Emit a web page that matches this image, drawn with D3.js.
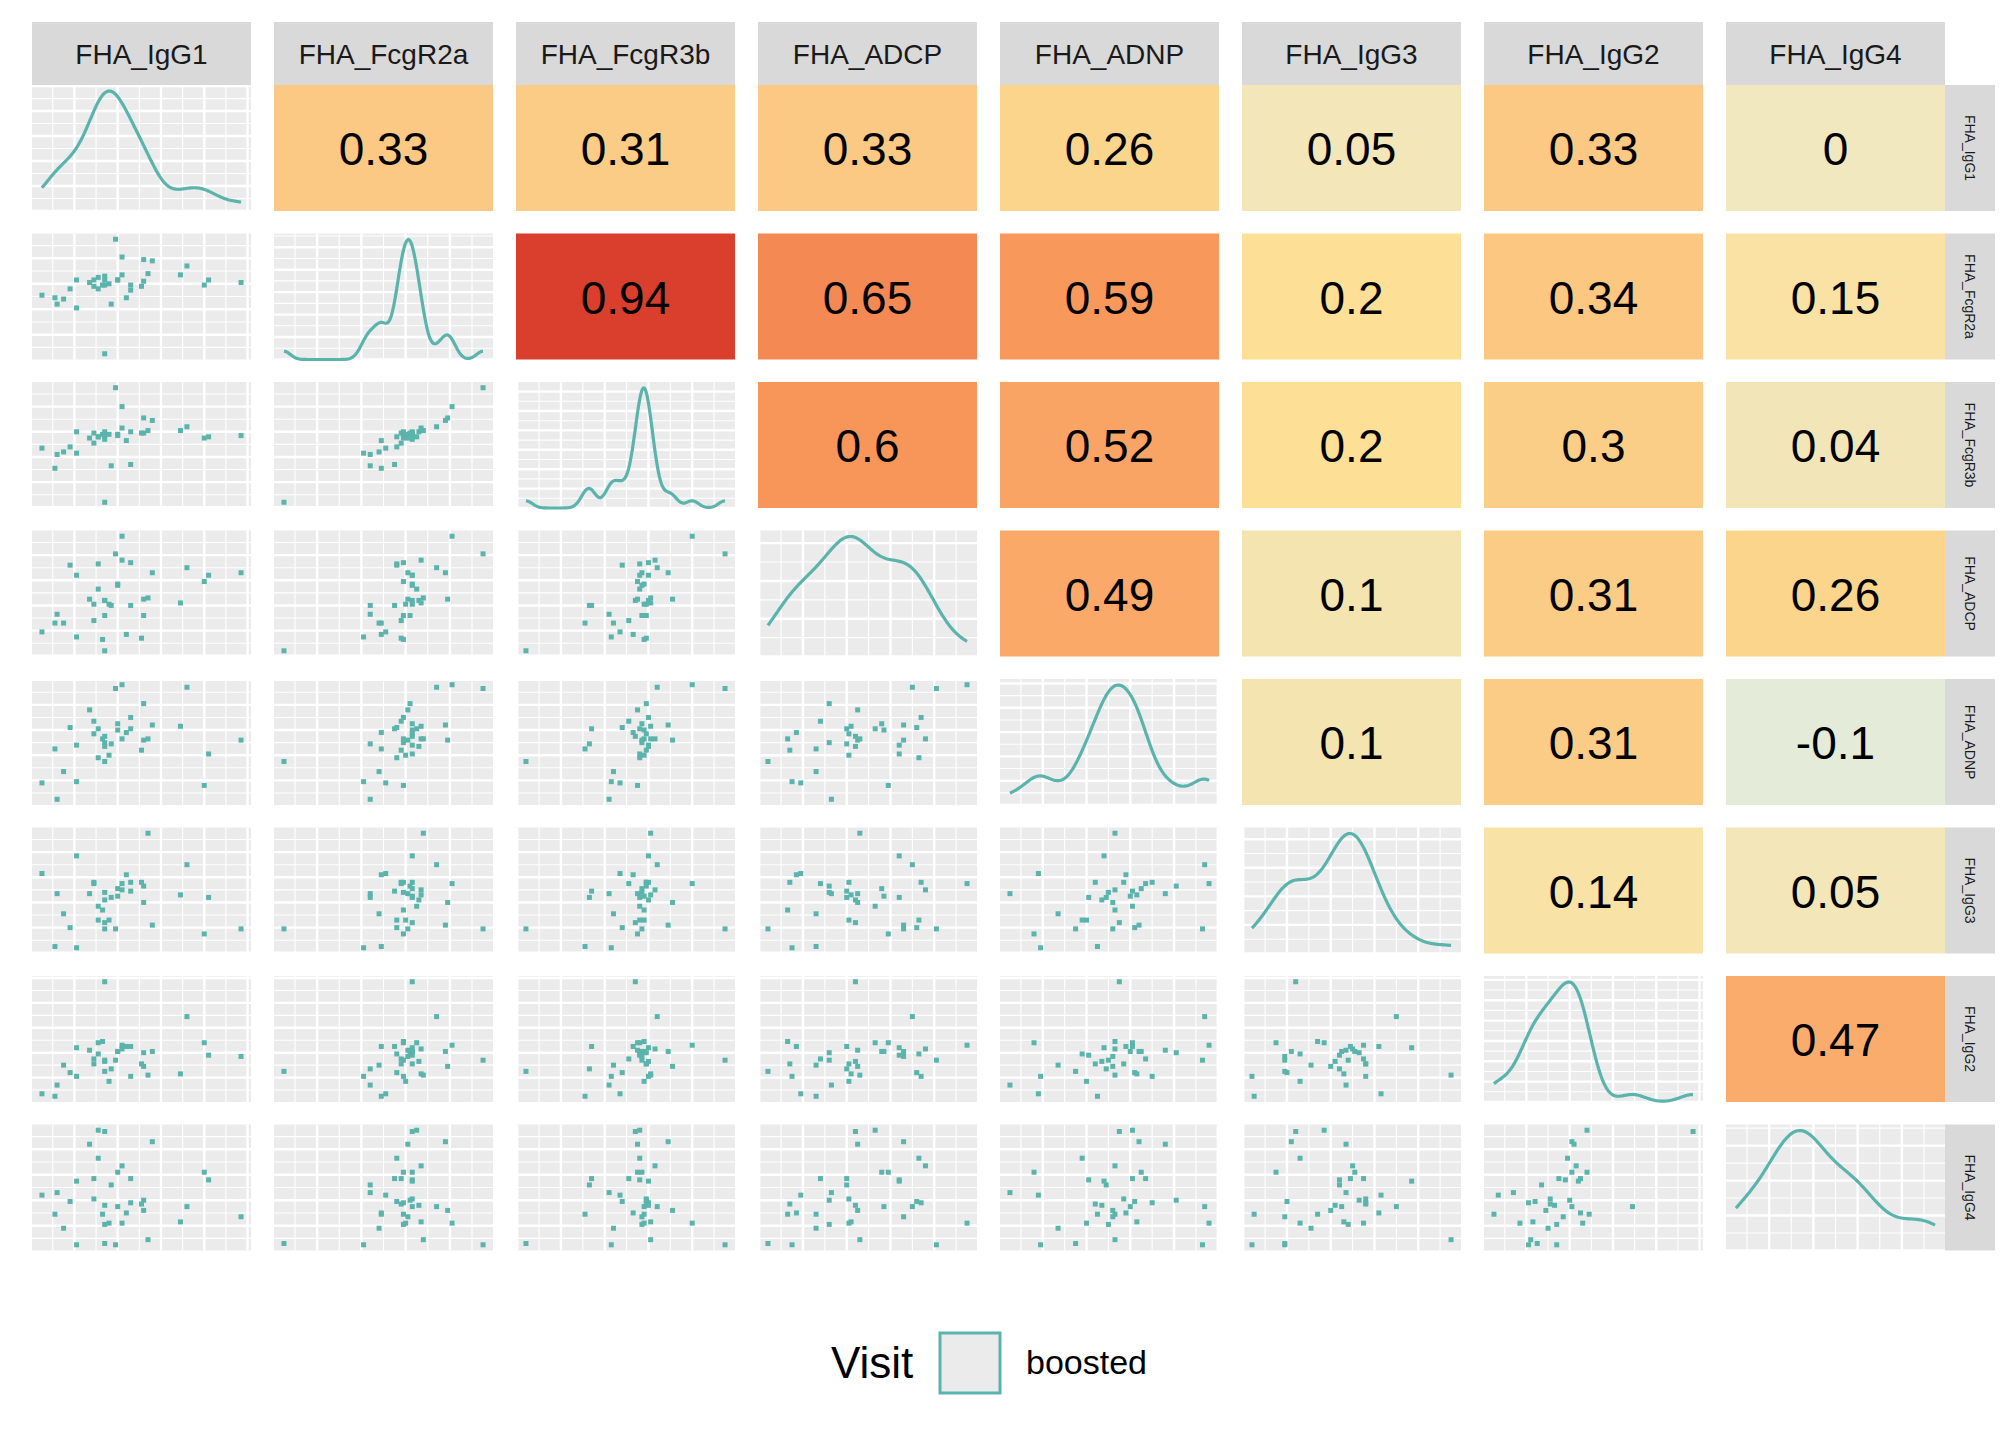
<!DOCTYPE html>
<html lang="en">
<head>
<meta charset="UTF-8">
<title>FHA pairs</title>
<script src="https://d3js.org/d3.v7.min.js"></script>
<style>
  body { margin: 0; background: #fff; font-family: "Liberation Sans", Arial, sans-serif; }
</style>
</head>
<body>
<div class="viz"></div>
<script>
// variable names, in panel order
const vars = ["FHA_IgG1", "FHA_FcgR2a", "FHA_FcgR3b", "FHA_ADCP", "FHA_ADNP", "FHA_IgG3", "FHA_IgG2", "FHA_IgG4"];

// per-sample values (relative units)
const IgG1   = [5, 11, 12, 15, 18, 21, 21, 27, 29, 29, 31, 31, 33, 34, 34, 34, 36, 37, 39, 34, 40, 40, 42, 42, 44, 46, 46, 51, 52, 52, 54, 56, 69, 72, 80, 82, 97];
const FcgR2a = [51, 49, 44, 48, 56, 63, 41, 61, 63, 58, 65, 56, 59, 59, 66, 63, 60, 44, 95, 5, 63, 63, 81, 67, 49, 59, 55, 58, 62, 79, 68, 78, 67, 74, 59, 63, 61];
const FcgR3b = [47, 31, 42, 44, 48, 60, 43, 55, 59, 51, 56, 56, 58, 57, 60, 54, 58, 33, 95, 4, 57, 58, 80, 63, 53, 60, 34, 59, 59, 71, 61, 69, 61, 64, 55, 56, 57];
const ADCP   = [19, 26, 33, 26, 72, 64, 15, 45, 41, 28, 53, 73, 13, 32, 44, 44, 41, 40, 81, 4, 56, 57, 95, 76, 17, 74, 40, 14, 32, 45, 46, 66, 42, 70, 59, 64, 66];
const ADNP   = [18, 45, 5, 27, 62, 48, 19, 76, 57, 67, 61, 38, 53, 50, 47, 55, 40, 49, 93, 35, 65, 60, 96, 53, 58, 70, 61, 44, 81, 52, 53, 64, 63, 94, 16, 41, 52];
const IgG3   = [63, 5, 47, 31, 20, 77, 4, 47, 56, 55, 37, 26, 34, 48, 42, 24, 26, 44, 19, 19, 51, 45, 55, 50, 62, 56, 49, 56, 53, 40, 95, 22, 46, 70, 15, 44, 19];
const IgG2   = [7, 5, 14, 30, 24, 44, 21, 42, 31, 35, 48, 39, 49, 34, 33, 97, 17, 27, 34, 25, 41, 41, 46, 43, 45, 21, 45, 31, 40, 29, 22, 41, 23, 69, 48, 38, 37];
const IgG4   = [44, 29, 46, 18, 39, 55, 5, 84, 41, 57, 95, 73, 29, 21, 36, 94, 22, 52, 5, 6, 62, 35, 22, 67, 30, 38, 57, 37, 40, 32, 9, 86, 23, 35, 62, 56, 27];
const series = [IgG1, FcgR2a, FcgR3b, ADCP, ADNP, IgG3, IgG2, IgG4];

// correlation labels of the upper triangle, row by row
const corrLabels = [
  [null, "0.33", "0.31", "0.33", "0.26", "0.05", "0.33", "0"],
  [null, null, "0.94", "0.65", "0.59", "0.2", "0.34", "0.15"],
  [null, null, null, "0.6", "0.52", "0.2", "0.3", "0.04"],
  [null, null, null, null, "0.49", "0.1", "0.31", "0.26"],
  [null, null, null, null, null, "0.1", "0.31", "-0.1"],
  [null, null, null, null, null, null, "0.14", "0.05"],
  [null, null, null, null, null, null, null, "0.47"],
  [null, null, null, null, null, null, null, null]
];
const legendTitle = "Visit";
const legendLabel = "boosted";

const W = 2016, H = 1440;
const x0 = 32, y0 = 85, cellW = 219, cellH = 126, stepX = 242, stepY = 148.5;
const stripH = 63, rStripW = 50;
const teal = "#5AB4AC";

const fill = d3.scaleLinear()
  .domain([-1, -0.1, 0, 0.1, 0.2, 0.33, 0.47, 0.6, 0.94, 1])
  .range(["#3288BD", "#E5EBD9", "#F1E8BF", "#F4E4B0", "#FDDF95", "#FBC983", "#FAAC6C", "#F8965A", "#DA3F2E", "#D53E2E"]);

const svg = d3.select(".viz").append("svg").attr("width", W).attr("height", H);

const xScales = series.map(s => {
  const [a, b] = d3.extent(s), pad = (b - a) * 0.05;
  return d3.scaleLinear().domain([a - pad, b + pad]).range([0, cellW]);
});
const yScales = series.map(s => {
  const [a, b] = d3.extent(s), pad = (b - a) * 0.05;
  return d3.scaleLinear().domain([a - pad, b + pad]).range([cellH, 0]);
});

function grid(g, xs, ys) {
  g.append("rect").attr("width", cellW).attr("height", cellH).attr("fill", "#EBEBEB");
  const xt = xs.ticks(5), yt = ys.ticks(5);
  const mids = t => t.slice(1).map((v, i) => (v + t[i]) / 2)
    .concat([t[0] - (t[1] - t[0]) / 2, t[t.length - 1] + (t[1] - t[0]) / 2]);
  const inX = v => xs(v) >= 0 && xs(v) <= cellW, inY = v => ys(v) >= 0 && ys(v) <= cellH;
  [[mids(xt), 1.1], [xt, 2.4]].forEach(([t, w]) => g.selectAll(null).data(t.filter(inX)).join("line")
    .attr("x1", d => xs(d)).attr("x2", d => xs(d)).attr("y1", 0).attr("y2", cellH)
    .attr("stroke", "#fff").attr("stroke-width", w));
  [[mids(yt), 1.1], [yt, 2.4]].forEach(([t, w]) => g.selectAll(null).data(t.filter(inY)).join("line")
    .attr("y1", d => ys(d)).attr("y2", d => ys(d)).attr("x1", 0).attr("x2", cellW)
    .attr("stroke", "#fff").attr("stroke-width", w));
}

function kde(s) {
  const n = s.length, sd = d3.deviation(s);
  const sorted = s.slice().sort(d3.ascending);
  const q = d3.quantile(sorted, 0.75) - d3.quantile(sorted, 0.25);
  const bw = 0.9 * Math.min(sd, q / 1.34) * Math.pow(n, -0.2);
  const [a, b] = d3.extent(s);
  const pts = d3.range(0, 201).map(i => a + (b - a) * i / 200);
  return pts.map(x => [x, d3.mean(s, v => Math.exp(-0.5 * ((x - v) / bw) ** 2)) / (bw * Math.sqrt(2 * Math.PI))]);
}

vars.forEach((name, j) => {
  // top strips
  const sx = x0 + j * stepX;
  svg.append("rect").attr("x", sx).attr("y", y0 - stripH).attr("width", cellW).attr("height", stripH).attr("fill", "#D9D9D9");
  svg.append("text").attr("x", sx + cellW / 2).attr("y", y0 - stripH / 2 + 10).attr("text-anchor", "middle")
    .attr("font-size", 28).attr("fill", "#1A1A1A").text(name);
  // right strips
  const sy = y0 + j * stepY;
  svg.append("rect").attr("x", x0 + 7 * stepX + cellW).attr("y", sy).attr("width", rStripW).attr("height", cellH).attr("fill", "#D9D9D9");
  svg.append("text").attr("transform", `translate(${x0 + 7 * stepX + cellW + rStripW / 2 - 5},${sy + cellH / 2}) rotate(90)`)
    .attr("text-anchor", "middle").attr("font-size", 14).attr("fill", "#1A1A1A").text(name);
});

vars.forEach((rowName, i) => {
  vars.forEach((colName, j) => {
    const g = svg.append("g").attr("transform", `translate(${x0 + j * stepX},${y0 + i * stepY})`);
    if (j > i) {
      const lab = corrLabels[i][j];
      g.append("rect").attr("width", cellW).attr("height", cellH).attr("fill", fill(+lab));
      g.append("text").attr("x", cellW / 2).attr("y", cellH / 2 + 17).attr("text-anchor", "middle")
        .attr("font-size", 46).attr("fill", "#000").text(lab);
    } else if (i === j) {
      const xs = xScales[j];
      const dens = kde(series[j]);
      const ys = d3.scaleLinear().domain([0, d3.max(dens, d => d[1]) * 1.05]).range([cellH, 0]);
      grid(g, xs, ys);
      g.append("path").datum(dens)
        .attr("d", d3.line().x(d => xs(d[0])).y(d => ys(d[1])))
        .attr("fill", "none").attr("stroke", teal).attr("stroke-width", 3.2);
    } else {
      const xs = xScales[j], ys = yScales[i];
      grid(g, xs, ys);
      g.selectAll(null).data(d3.range(series[j].length)).join("rect")
        .attr("x", k => xs(series[j][k]) - 2.5).attr("y", k => ys(series[i][k]) - 2.5)
        .attr("width", 5).attr("height", 5).attr("fill", teal);
    }
  });
});

// legend
const lg = svg.append("g").attr("transform", "translate(0,1363)");
lg.append("text").attr("x", 831).attr("y", 15).attr("font-size", 44).attr("fill", "#000").text(legendTitle);
lg.append("rect").attr("x", 940).attr("y", -30).attr("width", 60).attr("height", 60)
  .attr("fill", "#EBEBEB").attr("stroke", teal).attr("stroke-width", 3);
lg.append("text").attr("x", 1026).attr("y", 11).attr("font-size", 34).attr("fill", "#000").text(legendLabel);
</script>
</body>
</html>
